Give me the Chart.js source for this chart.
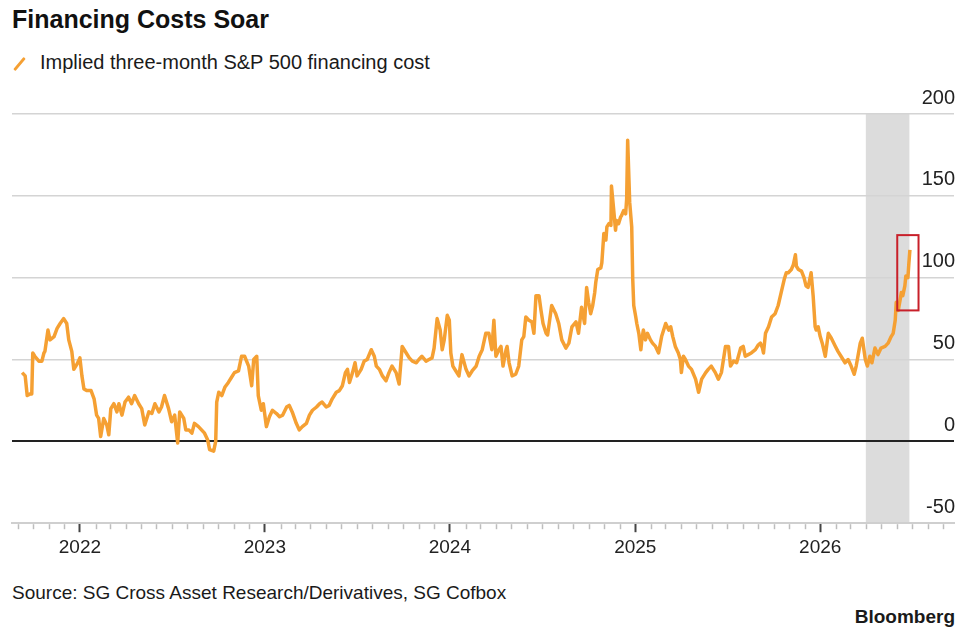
<!DOCTYPE html>
<html>
<head>
<meta charset="utf-8">
<script src="https://cdn.jsdelivr.net/npm/chart.js@4.4.1/dist/chart.umd.min.js"></script>
<style>
  body { margin: 0; background: #fff; font-family: 'Liberation Sans', Arial, sans-serif; color: #1a1a1a; }
  #wrap { position: relative; width: 975px; height: 631px; overflow: hidden; }
  #title { position: absolute; left: 12px; top: 7px; font-size: 25px; line-height: 25px; font-weight: bold; color: #111; }
  #legend { position: absolute; left: 40px; top: 52px; font-size: 20px; line-height: 20px; }
  #legendIcon { position: absolute; left: 18px; top: 56px; width: 3px; height: 16px; background: #f5a033; transform: rotate(40deg); border-radius: 1px; }
  #source { position: absolute; left: 12px; top: 583px; font-size: 19px; line-height: 19px; }
  #brand { position: absolute; right: 20px; top: 607px; font-size: 19px; line-height: 19px; font-weight: bold; }
  #chart { position: absolute; left: 0; top: 80px; }
</style>
</head>
<body>
<div id="wrap">
  <div id="title">Financing Costs Soar</div>
  <div id="legendIcon"></div>
  <div id="legend">Implied three-month S&amp;P 500 financing cost</div>
  <canvas id="chart" width="975" height="490"></canvas>
  <div id="source">Source: SG Cross Asset Research/Derivatives, SG Cofbox</div>
  <div id="brand">Bloomberg</div>
</div>
<script>
// Valori (data -> costo implicito)
const dates = [
  '2021-09-09','2021-09-15','2021-09-19','2021-09-25','2021-09-28','2021-09-30','2021-10-04','2021-10-12','2021-10-18','2021-10-22','2021-10-24','2021-10-30','2021-11-03','2021-11-11','2021-11-17','2021-11-23','2021-11-30','2021-12-06','2021-12-10','2021-12-16','2021-12-20','2021-12-26',
  '2022-01-01','2022-01-05','2022-01-09','2022-01-15','2022-01-23','2022-01-29','2022-02-03','2022-02-07','2022-02-11','2022-02-17','2022-02-23','2022-02-27','2022-03-03','2022-03-09','2022-03-15','2022-03-19','2022-03-25','2022-03-31','2022-04-07','2022-04-13','2022-04-19','2022-04-27','2022-05-03','2022-05-09','2022-05-17','2022-05-23','2022-05-29','2022-06-06','2022-06-11','2022-06-17','2022-06-25','2022-07-01','2022-07-07','2022-07-13','2022-07-17','2022-07-25','2022-07-29','2022-08-04','2022-08-10','2022-08-15','2022-08-23','2022-08-29','2022-09-04','2022-09-10','2022-09-14','2022-09-22','2022-09-26','2022-09-28','2022-10-02','2022-10-08','2022-10-14','2022-10-21','2022-10-27','2022-11-02','2022-11-10','2022-11-16','2022-11-22','2022-11-30','2022-12-06','2022-12-10','2022-12-16','2022-12-19','2022-12-25','2022-12-29',
  '2023-01-04','2023-01-10','2023-01-16','2023-01-24','2023-01-30','2023-02-05','2023-02-13','2023-02-18','2023-02-24','2023-03-04','2023-03-10','2023-03-16','2023-03-24','2023-03-30','2023-04-05','2023-04-13','2023-04-19','2023-04-24','2023-05-02','2023-05-08','2023-05-14','2023-05-22','2023-05-28','2023-06-03','2023-06-09','2023-06-13','2023-06-17','2023-06-23','2023-06-28','2023-07-02','2023-07-10','2023-07-16','2023-07-22','2023-07-30','2023-08-05','2023-08-09','2023-08-15','2023-08-21','2023-08-28','2023-09-03','2023-09-09','2023-09-17','2023-09-23','2023-09-29','2023-10-07','2023-10-13','2023-10-19','2023-10-27','2023-11-01','2023-11-07','2023-11-15','2023-11-21','2023-11-27','2023-12-01','2023-12-07','2023-12-13','2023-12-17','2023-12-21','2023-12-27','2023-12-31',
  '2024-01-03','2024-01-07','2024-01-13','2024-01-19','2024-01-25','2024-02-02','2024-02-08','2024-02-14','2024-02-22','2024-02-28','2024-03-05','2024-03-12','2024-03-18','2024-03-24','2024-03-28','2024-04-01','2024-04-07','2024-04-11','2024-04-15','2024-04-21','2024-04-23','2024-04-27','2024-05-03','2024-05-10','2024-05-16','2024-05-22','2024-05-26','2024-05-30','2024-06-05','2024-06-11','2024-06-15','2024-06-19','2024-06-25','2024-06-29','2024-07-03','2024-07-09','2024-07-12','2024-07-16','2024-07-20','2024-07-28','2024-08-03','2024-08-09','2024-08-17','2024-08-23','2024-08-29','2024-09-06','2024-09-11','2024-09-17','2024-09-23','2024-09-27','2024-10-01','2024-10-05','2024-10-09','2024-10-13','2024-10-15','2024-10-19','2024-10-25','2024-10-27','2024-10-31','2024-11-04','2024-11-06','2024-11-10','2024-11-14','2024-11-15','2024-11-19','2024-11-23','2024-11-25','2024-11-29','2024-12-03','2024-12-05','2024-12-09','2024-12-13','2024-12-15','2024-12-17','2024-12-21','2024-12-25','2024-12-27','2024-12-29',
  '2025-01-02','2025-01-04','2025-01-08','2025-01-12','2025-01-14','2025-01-17','2025-01-21','2025-01-25','2025-01-31','2025-02-04','2025-02-10','2025-02-16','2025-02-22','2025-03-02','2025-03-08','2025-03-12','2025-03-16','2025-03-21','2025-03-27','2025-03-31','2025-04-02','2025-04-06','2025-04-10','2025-04-16','2025-04-22','2025-04-30','2025-05-06','2025-05-12','2025-05-20','2025-05-25','2025-05-31','2025-06-08','2025-06-14','2025-06-20','2025-06-28','2025-07-04','2025-07-08','2025-07-14','2025-07-20','2025-07-28','2025-08-02','2025-08-06','2025-08-12','2025-08-18','2025-08-26','2025-09-01','2025-09-05','2025-09-09','2025-09-11','2025-09-15','2025-09-21','2025-09-27','2025-10-04','2025-10-10','2025-10-16','2025-10-22','2025-10-26','2025-10-30','2025-11-05','2025-11-09','2025-11-13','2025-11-15','2025-11-19','2025-11-25','2025-11-30','2025-12-04','2025-12-08','2025-12-14','2025-12-18','2025-12-22','2025-12-24','2025-12-28',
  '2026-01-01','2026-01-05','2026-01-11','2026-01-17','2026-01-23','2026-01-31','2026-02-05','2026-02-11','2026-02-19','2026-02-25','2026-03-03','2026-03-09','2026-03-13','2026-03-21','2026-03-25','2026-03-31','2026-04-04','2026-04-09','2026-04-13','2026-04-19','2026-04-25','2026-05-01','2026-05-09','2026-05-15','2026-05-21','2026-05-25','2026-05-29','2026-05-31','2026-06-04','2026-06-08','2026-06-10','2026-06-13','2026-06-17','2026-06-19','2026-06-23','2026-06-25','2026-06-27'
];
const values = [
  42,40,28,29,29,54,52,49,49,54,55,68,62,64,69,72,75,72,62,55,44,47,
  51,40,32,31,31,26,16,14,3,14,10,4,20,23,18,23,16,24,27,23,28,23,20,10,18,17,23,18,21,28,20,12,16,-1,18,14,7,7,5,11,9,7,5,1,-5,-6,0,24,30,28,33,36,39,42,43,52,52,46,34,50,52,28,19,23,
  9,15,19,17,15,16,21,22,18,11,7,9,11,16,19,21,23,24,21,22,26,30,31,34,42,44,36,42,48,40,44,49,50,56,52,46,44,40,37,42,46,42,35,58,54,51,49,48,50,52,49,50,51,57,75,68,56,62,77,74,
  54,46,43,40,53,44,40,43,46,52,56,66,66,56,74,52,56,58,46,56,58,48,40,41,46,62,64,76,74,73,66,89,89,80,72,66,65,74,83,78,72,62,57,60,70,73,66,82,72,94,85,78,83,91,97,105,106,109,127,123,131,133,132,156,143,129,135,133,137,138,141,139,148,184,146,131,99,83,
  76,72,66,56,62,68,62,66,62,60,58,54,64,72,68,70,64,58,54,50,42,52,50,46,44,38,30,38,42,44,46,42,38,42,58,58,46,49,48,57,58,52,53,54,56,59,60,57,54,66,70,76,78,83,91,99,103,103,105,108,114,107,105,104,100,95,94,103,89,70,68,70,
  64,60,52,66,63,58,55,52,48,50,46,41,46,60,63,50,46,52,48,57,53,57,58,60,64,66,74,85,80,87,91,89,95,101,100,109,117
];

const yearTicks = [2022, 2023, 2024, 2025, 2026];
const yTicks = [-50, 0, 50, 100, 150, 200];
const axisStart = '2021-08-20';
const axisEnd = '2026-09-22';
const shadeFrom = '2026-04-01';
const shadeTo = '2026-06-26';
const boxFrom = '2026-06-02';
const boxTo = '2026-07-14';
const boxLow = 80;
const boxHigh = 126;

const lineColor = '#f5a033';
const fontFamily = "'Liberation Sans', Arial, sans-serif";

const points = dates.map((d, i) => ({ x: Date.parse(d), y: values[i] }));

// Area grigia (sotto la griglia)
const shadePlugin = {
  id: 'shade',
  beforeDraw(chart) {
    const { ctx, chartArea, scales } = chart;
    const x1 = scales.x.getPixelForValue(Date.parse(shadeFrom));
    const x2 = scales.x.getPixelForValue(Date.parse(shadeTo));
    ctx.save();
    ctx.fillStyle = '#dcdcdc';
    ctx.fillRect(x1, chartArea.top, x2 - x1, chartArea.bottom - chartArea.top);
    ctx.restore();
  }
};

// Tacche mensili corte sull'asse x
const minorTicks = {
  id: 'minorTicks',
  afterDraw(chart) {
    const { ctx, chartArea, scales } = chart;
    ctx.save();
    ctx.strokeStyle = '#bdbdbd';
    ctx.lineWidth = 1.5;
    for (let y = 2021; y <= 2026; y++) {
      for (let m = 1; m < 12; m++) {
        const v = Date.UTC(y, m, 1);
        if (v < scales.x.min || v > scales.x.max) continue;
        const px = Math.round(scales.x.getPixelForValue(v)) + 0.5;
        ctx.beginPath();
        ctx.moveTo(px, chartArea.bottom + 1);
        ctx.lineTo(px, chartArea.bottom + 6);
        ctx.stroke();
      }
    }
    ctx.restore();
  }
};

// Riquadro rosso sull'ultimo picco
const boxPlugin = {
  id: 'redBox',
  afterDatasetsDraw(chart) {
    const { ctx, scales } = chart;
    const x1 = scales.x.getPixelForValue(Date.parse(boxFrom));
    const x2 = scales.x.getPixelForValue(Date.parse(boxTo));
    const y1 = scales.y.getPixelForValue(boxHigh);
    const y2 = scales.y.getPixelForValue(boxLow);
    ctx.save();
    ctx.strokeStyle = '#c8202a';
    ctx.lineWidth = 2;
    ctx.strokeRect(x1, y1, x2 - x1, y2 - y1);
    ctx.restore();
  }
};

new Chart(document.getElementById('chart'), {
  type: 'line',
  data: {
    datasets: [{
      label: 'Implied three-month S&P 500 financing cost',
      data: points,
      borderColor: lineColor,
      borderWidth: 3.5,
      pointRadius: 0,
      tension: 0,
      borderJoinStyle: 'round'
    }]
  },
  options: {
    responsive: false,
    animation: false,
    layout: { padding: { left: 12, right: 19, top: 34, bottom: 7 } },
    plugins: {
      legend: { display: false },
      tooltip: { enabled: false }
    },
    scales: {
      x: {
        type: 'linear',
        min: Date.parse(axisStart),
        max: Date.parse(axisEnd),
        afterBuildTicks: (scale) => { scale.ticks = yearTicks.map(y => ({ value: Date.UTC(y, 0, 1) })); },
        ticks: {
          callback: (v) => new Date(v).getUTCFullYear(),
          autoSkip: false,
          maxRotation: 0,
          padding: 4,
          color: '#222',
          font: { size: 19, family: fontFamily }
        },
        grid: { drawOnChartArea: false, tickLength: 9, tickColor: '#444', tickWidth: 2 },
        border: { color: '#cfcfcf', width: 2 }
      },
      y: {
        position: 'right',
        min: -50,
        max: 200,
        afterBuildTicks: (scale) => { scale.ticks = yTicks.map(v => ({ value: v })); },
        ticks: {
          mirror: true,
          labelOffset: -16,
          padding: 1,
          color: '#222',
          font: { size: 20, family: fontFamily }
        },
        grid: {
          drawTicks: false,
          color: (c) => c.tick.value === 0 ? '#222' : '#d4d4d4',
          lineWidth: (c) => c.tick.value === 0 ? 2 : 1.5
        },
        border: { display: false }
      }
    }
  },
  plugins: [shadePlugin, minorTicks, boxPlugin]
});
</script>
</body>
</html>
